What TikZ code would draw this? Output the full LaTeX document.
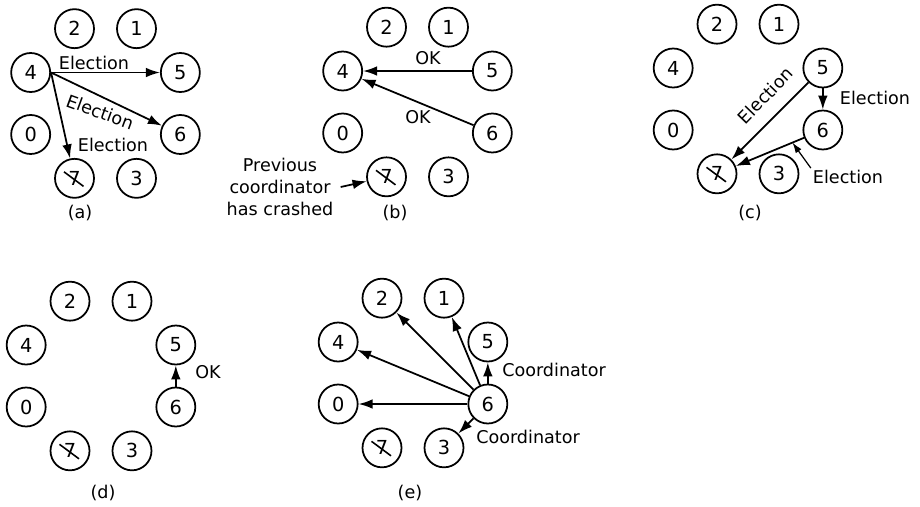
\documentclass[tikz,border=0pt]{standalone}
\usepackage{fontspec}
\setmainfont{DejaVu Sans}
\usetikzlibrary{arrows.meta}

\begin{document}
\begin{tikzpicture}[
    font=\fontsize{10pt}{12.5pt}\selectfont,
    proc/.style={circle, draw, line width=1pt, minimum size=0.78cm, inner sep=0pt,
        font=\fontsize{11pt}{13pt}\selectfont},
    crashed/.style={path picture={
        \draw[line width=0.9pt] ([shift={(-0.21,0.13)}]path picture bounding box.center)
            -- ([shift={(0.18,-0.16)}]path picture bounding box.center);}},
    arr/.style={-{Latex[length=8pt,width=5.5pt]}, line width=1pt},
    lbl/.style={inner sep=1pt}
]

    % Page frame
    \useasboundingbox (0,0) rectangle (18.4,10.12);

    % The eight processes of every panel, on a ring
    \foreach \p/\cx/\cy in {a/2.11/8.05, b/8.35/8.08, c/14.96/8.14, d/2.02/2.60, e/8.26/2.66} {
        \begin{scope}[shift={(\cx,\cy)}]
            \foreach \n/\ang in {1/67.5, 2/112.5, 4/157.5, 0/202.5, 3/292.5, 6/337.5, 5/22.5}
                \node[proc] (\p\n) at (\ang:1.62) {\n};
            \node[proc, crashed] (\p7) at (247.5:1.62) {7};
        \end{scope}
    }

    % (a) 4 holds an election
    \draw[arr] (a4.east) -- (a5);
    \draw[arr] (a4.east) -- (a6);
    \draw[arr] (a4.east) -- (a7);
    \node[lbl] (aE1) at (1.88,8.86) {Election};
    \node[lbl, rotate=-20] (aE2) at (2.00,7.88) {Election};
    \node[lbl] (aE3) at (2.26,7.22) {Election};

    % (b) 5 and 6 answer
    \draw[arr] (b5) -- (b4);
    \draw[arr] (b6) -- (b4);
    \node[lbl] (bOK1) at (8.56,8.96) {OK};
    \node[lbl] (bOK2) at (8.36,7.78) {OK};
    \node[lbl, align=center] (crash) at (5.60,6.38) {Previous\\coordinator\\has crashed};
    \draw[arr] ([xshift=3pt]crash.east) -- (b7);

    % (c) 5 and 6 hold elections
    \draw[arr] (c5) -- (c7);
    \draw[arr] (c5) -- (c6);
    \draw[arr] (c6) -- (c7) coordinate[pos=0.17] (chit);
    \node[lbl, rotate=46] (cE1) at (15.31,8.21) {Election};
    \node[lbl] (cE2) at (17.50,8.16) {Election};
    \node[lbl] (cE3) at (16.96,6.58) {Election};
    \draw[-{Latex[length=6pt,width=4pt]}, line width=0.7pt] (cE3.north west) -- (chit);

    % (d) 6 answers 5
    \draw[arr] (d6) -- (d5);
    \node[lbl] (dOK) at (4.16,2.68) {OK};

    % (e) 6 becomes coordinator
    \foreach \t in {0,4,2,1,5,3}
        \draw[arr] (e6) -- (e\t);
    \node[lbl] (eC1) at (11.08,2.72) {Coordinator};
    \node[lbl] (eC2) at (10.56,1.38) {Coordinator};

    % Panel captions
    \node (capa) at (1.60,5.86) {(a)};
    \node (capb) at (7.90,5.86) {(b)};
    \node (capc) at (15.00,5.86) {(c)};
    \node (capd) at (2.06,0.26) {(d)};
    \node (cape) at (8.20,0.26) {(e)};

\end{tikzpicture}
\end{document}
